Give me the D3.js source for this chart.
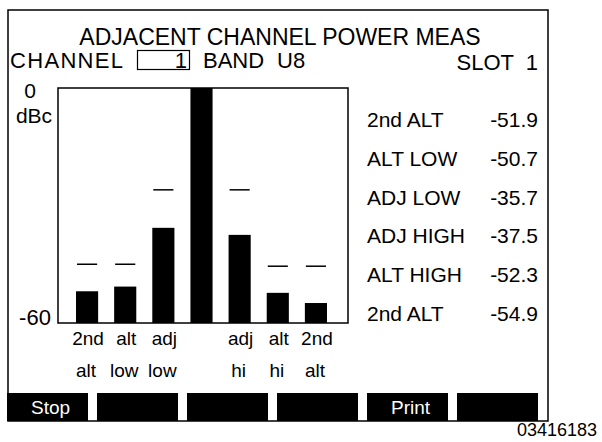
<!DOCTYPE html>
<html>
  <head>
    <meta charset="utf-8">
    <title>Adjacent channel power meas</title>
    <script src="https://d3js.org/d3.v7.min.js"></script>
    <style>
      body { margin: 0; background: #fff; }
      text { font-family: "Liberation Sans", Arial, Helvetica, sans-serif; fill: #000; white-space: pre; }
    </style>
  </head>
  <body>
    <svg id="chart" width="602" height="442"></svg>
    <script>
      // data
      const catTop = ["2nd", "alt", "adj", "", "adj", "alt", "2nd"];
      const catBottom = ["alt", "low", "low", "", "hi", "hi", "alt"];
      const levels = [-51.9, -50.7, -35.7, 0, -37.5, -52.3, -54.9];
      const limits = [-45, -45, -26, null, -26, -45.5, -45.5];
      const tableNames = ["2nd ALT", "ALT LOW", "ADJ LOW", "ADJ HIGH", "ALT HIGH", "2nd ALT"];
      const tableValues = [-51.9, -50.7, -35.7, -37.5, -52.3, -54.9];
      const yTicks = [0, -60];
      const buttons = ["Stop", "", "", "", "Print", ""];

      const svg = d3.select("#chart");
      const fmt = function(d) { return d3.format(".1f")(d).replace("\u2212", "-"); };

      // outer screen frame
      svg.append("rect")
        .attr("x", 8).attr("y", 10)
        .attr("width", 540).attr("height", 411)
        .attr("fill", "none").attr("stroke", "#000").attr("stroke-width", 1.5);

      // header
      svg.append("text")
        .attr("x", 280).attr("y", 45)
        .attr("text-anchor", "middle")
        .style("font-size", "23px")
        .text("ADJACENT CHANNEL POWER MEAS");
      svg.append("text")
        .attr("x", 10).attr("y", 68)
        .attr("textLength", 113).attr("lengthAdjust", "spacing")
        .style("font-size", "22px")
        .text("CHANNEL");
      svg.append("rect")
        .attr("x", 137.5).attr("y", 50.5)
        .attr("width", 52).attr("height", 19)
        .attr("fill", "none").attr("stroke", "#000").attr("stroke-width", 1.2);
      svg.append("text")
        .attr("x", 187).attr("y", 68)
        .attr("text-anchor", "end")
        .style("font-size", "22px")
        .text("1");
      svg.append("text")
        .attr("x", 203).attr("y", 68)
        .style("font-size", "22px")
        .text("BAND");
      svg.append("text")
        .attr("x", 277).attr("y", 68)
        .style("font-size", "22px")
        .text("U8");
      svg.append("text")
        .attr("x", 538).attr("y", 70)
        .attr("text-anchor", "end")
        .style("font-size", "22px")
        .text("SLOT  1");

      // plot area
      const plot = { left: 58, top: 88, right: 348, bottom: 323 };
      const y = d3.scaleLinear()
        .domain([-60, 0])
        .range([plot.bottom, plot.top]);
      const x = d3.scaleBand()
        .domain(d3.range(levels.length))
        .range([68, 335])
        .paddingInner(0.42)
        .paddingOuter(0.21);

      svg.append("rect")
        .attr("x", plot.left).attr("y", plot.top)
        .attr("width", plot.right - plot.left).attr("height", plot.bottom - plot.top)
        .attr("fill", "none").attr("stroke", "#000").attr("stroke-width", 1.5);

      svg.selectAll(".bar")
        .data(levels)
        .enter().append("rect")
          .attr("class", "bar")
          .attr("x", function(d, i) { return x(i); })
          .attr("y", function(d) { return y(d); })
          .attr("width", x.bandwidth())
          .attr("height", function(d) { return y(-60) - y(d); })
          .attr("fill", "#000");

      svg.selectAll(".limit")
        .data(limits.map(function(d, i) { return { v: d, i: i }; }).filter(function(d) { return d.v !== null; }))
        .enter().append("line")
          .attr("class", "limit")
          .attr("x1", function(d) { return x(d.i) + 1; })
          .attr("x2", function(d) { return x(d.i) + x.bandwidth() - 1; })
          .attr("y1", function(d) { return y(d.v); })
          .attr("y2", function(d) { return y(d.v); })
          .attr("stroke", "#000").attr("stroke-width", 1.5);

      // y labels
      svg.selectAll(".ytick")
        .data(yTicks)
        .enter().append("text")
          .attr("class", "ytick")
          .attr("x", function(d) { return d === 0 ? 30 : 35; })
          .attr("y", function(d) { return d === 0 ? y(d) + 10 : y(d) + 2; })
          .attr("text-anchor", "middle")
          .style("font-size", function(d) { return d === 0 ? "21px" : "22px"; })
          .text(function(d) { return d; });
      svg.append("text")
        .attr("x", 34).attr("y", y(0) + 35)
        .attr("text-anchor", "middle")
        .style("font-size", "21px")
        .text("dBc");

      // category labels
      svg.selectAll(".cat1")
        .data(catTop)
        .enter().append("text")
          .attr("class", "cat1")
          .attr("x", function(d, i) { return x(i) + x.bandwidth() / 2 + 1; })
          .attr("y", 345)
          .attr("text-anchor", "middle")
          .style("font-size", "19px")
          .text(function(d) { return d; });
      svg.selectAll(".cat2")
        .data(catBottom)
        .enter().append("text")
          .attr("class", "cat2")
          .attr("x", function(d, i) { return x(i) + x.bandwidth() / 2 - 1; })
          .attr("y", 377)
          .attr("text-anchor", "middle")
          .style("font-size", "19px")
          .text(function(d) { return d; });

      // readout table
      const row = d3.scalePoint()
        .domain(d3.range(tableNames.length))
        .range([127, 321]);
      svg.selectAll(".tname")
        .data(tableNames)
        .enter().append("text")
          .attr("class", "tname")
          .attr("x", 367)
          .attr("y", function(d, i) { return row(i); })
          .style("font-size", "21px")
          .text(function(d) { return d; });
      svg.selectAll(".tval")
        .data(tableValues)
        .enter().append("text")
          .attr("class", "tval")
          .attr("x", 538)
          .attr("y", function(d, i) { return row(i); })
          .attr("text-anchor", "end")
          .style("font-size", "21px")
          .text(function(d) { return fmt(d); });

      // softkeys
      const keys = d3.scaleBand()
        .domain(d3.range(buttons.length))
        .range([7, 538])
        .paddingInner(0.1);
      svg.selectAll(".key")
        .data(buttons)
        .enter().append("rect")
          .attr("class", "key")
          .attr("x", function(d, i) { return keys(i); })
          .attr("y", 393)
          .attr("width", keys.bandwidth())
          .attr("height", 28)
          .attr("fill", "#000");
      svg.selectAll(".keylabel")
        .data(buttons)
        .enter().append("text")
          .attr("class", "keylabel")
          .attr("x", function(d, i) { return keys(i) + keys.bandwidth() / 2 + 3; })
          .attr("y", 414)
          .attr("text-anchor", "middle")
          .style("font-size", "19px")
          .style("fill", "#fff")
          .text(function(d) { return d; });

      svg.append("text")
        .attr("x", 597).attr("y", 436)
        .attr("text-anchor", "end")
        .style("font-size", "18px")
        .text("03416183");
    </script>
  </body>
</html>
